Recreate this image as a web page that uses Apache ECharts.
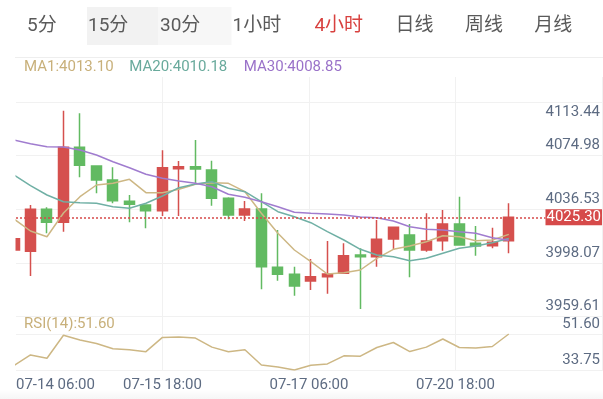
<!DOCTYPE html>
<html><head><meta charset="utf-8">
<script src="https://cdn.jsdelivr.net/npm/echarts@6/dist/echarts.min.js"></script>
<style>html,body{margin:0;padding:0;background:#fff}#c{width:603px;height:399px}</style>
</head><body><div id="c"></div>
<script>
// ---------- data ----------
const periods = ['5分','15分','30分','1小时','4小时','日线','周线','月线'];
const activePeriod = '4小时';
const dates = ['07-14 06:00','07-14 10:00','07-14 14:00','07-14 18:00','07-14 22:00','07-15 02:00','07-15 06:00','07-15 10:00','07-15 14:00','07-15 18:00','07-15 22:00','07-16 02:00','07-16 06:00','07-16 10:00','07-16 14:00','07-16 18:00','07-16 22:00','07-17 02:00','07-17 06:00','07-17 10:00','07-17 14:00','07-17 18:00','07-17 22:00','07-18 02:00','07-20 06:00','07-20 10:00','07-20 14:00','07-20 18:00','07-20 22:00','07-21 02:00','07-21 06:00'];
const open  = [4001.91,4000.98,4031.03,4021.73,4075.39,4062.01,4051.99,4036.75,4034.10,4030.03,4060.08,4061.51,4059.15,4038.90,4026.95,4031.24,3989.53,3984.52,3979.73,3982.80,3985.24,3998.33,3997.11,4009.78,4012.64,4001.91,4008.56,4020.51,4006.70,4004.98,4008.56];
const close = [4009.99,4031.03,4021.73,4075.39,4062.51,4051.99,4037.18,4034.60,4030.03,4060.79,4061.51,4059.86,4038.90,4026.95,4031.24,3989.96,3984.52,3976.15,3982.80,3984.74,3997.83,3997.11,4009.56,4018.15,4001.91,4008.35,4020.51,4005.48,4004.77,4007.42,4025.30];
const low   = [3998.50,3983.30,4013.86,4015.00,4053.92,4042.48,4035.32,4021.73,4017.44,4026.23,4026.23,4048.41,4033.60,4023.87,4022.66,3973.79,3979.94,3969.21,3973.29,3970.64,3984.74,3959.69,3989.96,4001.91,3982.37,4000.69,4001.41,4005.48,3997.83,4003.12,3999.55];
const high  = [4012.50,4034.10,4032.46,4101.58,4099.71,4062.51,4061.08,4041.26,4034.10,4073.24,4065.59,4080.61,4065.80,4039.61,4036.97,4042.48,4016.22,3989.96,3995.47,4008.35,4006.70,4003.12,4023.37,4018.58,4020.51,4028.17,4030.53,4040.04,4019.08,4017.86,4035.32];
const ma1  = [4024.09,4015.50,4011.42,4028.38,4040.04,4048.41,4049.63,4052.49,4042.91,4042.91,4045.34,4048.91,4050.06,4049.63,4043.62,4028.17,4013.86,4001.91,3993.54,3984.74,3985.67,3987.60,3995.97,4002.41,4004.77,4007.85,4012.14,4011.42,4008.56,4009.06,4013.10];
const ma20 = [4055.57,4047.91,4041.26,4036.47,4035.75,4035.32,4032.89,4031.74,4035.32,4040.54,4046.48,4049.13,4050.78,4046.05,4043.62,4036.47,4029.31,4025.73,4021.44,4015.00,4009.06,4002.41,3998.33,3997.11,3994.25,3995.97,3999.55,4003.12,4004.77,4007.13,4010.18];
const ma30 = [4080.61,4077.96,4075.82,4075.60,4073.46,4069.88,4065.09,4060.79,4056.07,4053.21,4051.28,4049.63,4047.20,4041.76,4039.61,4036.47,4032.89,4028.88,4028.17,4027.67,4026.95,4025.52,4025.02,4022.66,4018.58,4016.72,4016.22,4015.00,4013.86,4010.71,4008.85];
const rsi14 = [36.0,41.2,39.6,51.0,48.6,46.9,44.3,43.8,42.85,49.9,50.1,49.6,45.1,42.8,43.8,36.25,35.25,33.75,36.1,36.75,40.76,40.6,44.9,47.4,42.9,45.1,49.1,44.9,44.6,45.4,51.60];
const priceTickLabels = ['3959.61','3998.07','4036.53','4074.98','4113.44'];
const rsiTickLabels = ['33.75','51.60'];
const timeTickLabels = ['07-14 06:00','07-15 18:00','07-17 06:00','07-20 18:00'];

// ---------- layout / style ----------
const FONT = 'Roboto, "Noto Sans CJK SC", sans-serif';
const X_MIN = 0.121, X_MAX = 35.712, X_LINE_END = 32.225;
const P_MIN = 3954.33, P_MAX = 4107.80;
const RED = '#d5504e', GREEN = '#62ba62', AXIS_TXT = '#5d6b82', GRID_LINE = '#f1f1f1';
const tabLeft = [27, 88, 160, 232.6, 314.4, 395.4, 465, 534.3];
const lastClose = close[close.length - 1];

const candleData = dates.map((d, i) => [i, open[i], close[i], low[i], high[i]]);
const toLine = arr => arr.map((v, i) => [i, v]);

const maDefs = [
  {name: 'MA1', data: ma1, color: '#cdb784', txt: '#c8b07a', x: 24},
  {name: 'MA20', data: ma20, color: '#70b0a5', txt: '#69aa9c', x: 129.2},
  {name: 'MA30', data: ma30, color: '#a07ccf', txt: '#9a72c9', x: 243.8}
];

const graphics = [
  {type: 'rect', shape: {x: 87, y: 7, width: 71, height: 38}, style: {fill: '#f2f2f2'}},
  {type: 'rect', shape: {x: 158, y: 7, width: 73.5, height: 38}, style: {fill: '#f7f7f7'}},
  {type: 'line', shape: {x1: 15, y1: 57.5, x2: 603, y2: 57.5}, style: {stroke: '#eeeeee', lineWidth: 1}},
  {type: 'rect', shape: {x: 0, y: 389, width: 603, height: 10},
   style: {fill: new echarts.graphic.LinearGradient(0, 0, 0, 1, [{offset: 0, color: 'rgba(0,0,0,0)'}, {offset: 1, color: 'rgba(0,0,0,0.035)'}])}},
  // left edge of the plot area: hide the part of the first candle that lies outside the pane
  {type: 'rect', z: 50, shape: {x: 0, y: 95, width: 15.5, height: 225}, style: {fill: '#ffffff'}}
];
periods.forEach((p, i) => graphics.push({
  type: 'text', x: tabLeft[i], y: 26,
  style: {text: p, font: '19px ' + FONT, fill: p === activePeriod ? '#d8413f' : '#5a5a5a', verticalAlign: 'middle', align: 'left'}
}));
maDefs.forEach(m => graphics.push({
  type: 'text', x: m.x, y: 67.7,
  style: {text: m.name + ':' + m.data[m.data.length - 1].toFixed(2), font: '15px ' + FONT, fill: m.txt, verticalAlign: 'middle', align: 'left'}
}));
graphics.push({
  type: 'text', x: 24, y: 324.3,
  style: {text: 'RSI(14):' + rsi14[rsi14.length - 1].toFixed(2), font: '15px ' + FONT, fill: '#c8b07a', verticalAlign: 'middle', align: 'left'}
});

const labelAxis = (gridIndex, labels, topIdx) => ({
  gridIndex, type: 'value', min: 0, max: labels.length - 1, interval: 1, position: 'right',
  axisLine: {show: false}, axisTick: {show: false},
  splitLine: {show: true, lineStyle: {color: GRID_LINE, width: 1}},
  axisLabel: {
    inside: true, margin: 3, color: AXIS_TXT, fontSize: 15, fontFamily: FONT,
    formatter: v => { const t = labels[Math.round(v)]; return (Math.round(v) === topIdx ? '{t|' : '{b|') + t + '}'; },
    rich: {
      b: {padding: [0, 0, 20, 0], color: AXIS_TXT, fontSize: 15, fontFamily: FONT},
      t: {padding: [20, 0, 0, 0], color: AXIS_TXT, fontSize: 15, fontFamily: FONT}
    }
  }
});

const chart = echarts.init(document.getElementById('c'), null, {renderer: 'canvas'});
chart.setOption({
  animation: false,
  backgroundColor: '#ffffff',
  textStyle: {fontFamily: FONT},
  graphic: {elements: graphics},
  grid: [
    {left: 16, right: 0, top: 102, height: 214.5, containLabel: false, outerBoundsMode: 'none'},
    {left: 16, right: 0, top: 334, height: 36, containLabel: false, outerBoundsMode: 'none'},
    {left: 16, right: 1, top: 77, height: 293, containLabel: false, outerBoundsMode: 'none'}
  ],
  xAxis: [
    {gridIndex: 0, type: 'value', min: X_MIN, max: X_MAX, show: false},
    {gridIndex: 1, type: 'value', min: X_MIN, max: X_MAX, show: false},
    {gridIndex: 2, type: 'value', min: 0, max: 4, interval: 1,
     axisLine: {show: false}, axisTick: {show: false},
     splitLine: {show: true, showMinLine: false, lineStyle: {color: GRID_LINE, width: 1}},
     axisLabel: {margin: 8, color: AXIS_TXT, fontSize: 15, fontFamily: FONT, alignMinLabel: 'left',
       formatter: v => timeTickLabels[Math.round(v)] || ''}}
  ],
  yAxis: [
    {gridIndex: 0, type: 'value', min: P_MIN, max: P_MAX, show: false},
    labelAxis(0, priceTickLabels, priceTickLabels.length - 1),
    {gridIndex: 1, type: 'value', min: 'dataMin', max: 'dataMax', show: false},
    labelAxis(1, rsiTickLabels, -1),
    {gridIndex: 2, type: 'value', min: 0, max: 1, show: false}
  ],
  series: [
    {
      type: 'candlestick', xAxisIndex: 0, yAxisIndex: 0, data: candleData, barWidth: 10.5,
      itemStyle: {color: RED, color0: GREEN, borderColor: RED, borderColor0: GREEN, borderWidth: 1.5},
      markLine: {
        symbol: ['none', 'none'], silent: true, animation: false,
        lineStyle: {color: '#d64a4a', width: 1.5, type: [2, 2]},
        label: {show: true, position: 'end', distance: 0, formatter: () => lastClose.toFixed(2),
          color: '#ffffff', backgroundColor: '#d64a4a', fontSize: 15, fontFamily: FONT, padding: [1, 1, 0, 1], lineHeight: 15},
        data: [[{coord: [X_MIN, lastClose]}, {coord: [X_LINE_END, lastClose]}]]
      }
    },
    ...maDefs.map(m => ({
      type: 'line', name: m.name, xAxisIndex: 0, yAxisIndex: 0, data: toLine(m.data),
      showSymbol: false, symbol: 'none', lineStyle: {color: m.color, width: 1.5}
    })),
    {type: 'line', name: 'RSI', xAxisIndex: 1, yAxisIndex: 2, data: toLine(rsi14),
     showSymbol: false, symbol: 'none', lineStyle: {color: '#cdb784', width: 1.5}}
  ]
});
</script></body></html>
